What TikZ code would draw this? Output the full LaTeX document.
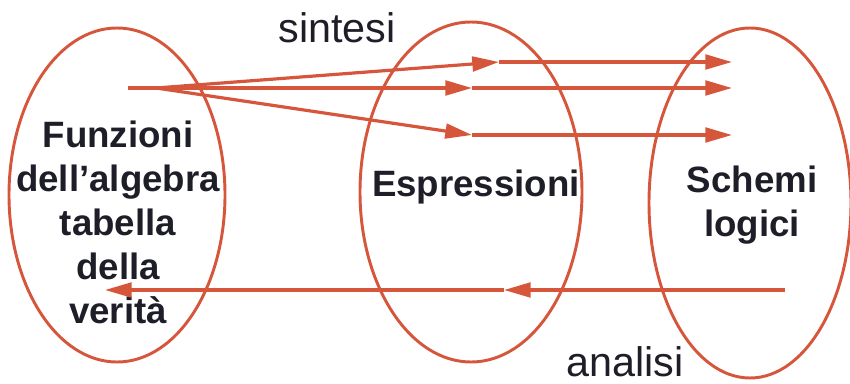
\documentclass[tikz,border=0pt]{standalone}
\usepackage{fontspec}
\setmainfont{Liberation Sans}
\usetikzlibrary{arrows.meta}
\definecolor{ered}{RGB}{214,86,60}
\definecolor{etext}{RGB}{30,30,40}
\begin{document}
\begin{tikzpicture}[x=0.75pt,y=-0.75pt,
  oval/.style={draw=ered,line width=2.2pt},
  conn/.style={draw=ered,line width=2.4pt,-{Triangle[length=20pt,width=11pt]}},
  plain/.style={draw=ered,line width=2.4pt},
  lbl/.style={text=etext,font=\fontsize{27.5}{33}\selectfont\bfseries,align=center,inner sep=0pt},
  side/.style={text=etext,font=\fontsize{31}{36}\selectfont,inner sep=0pt}]
\path[use as bounding box] (0,0) rectangle (850,384);
% ellipses
\draw[oval] (117,195) ellipse[x radius=108,y radius=167];
\draw[oval] (471,192) ellipse[x radius=111,y radius=170];
\draw[oval] (750,203) ellipse[x radius=101,y radius=175];
% texts
\node[lbl] (funz) at (118,222) {Funzioni\\dell'algebra\\tabella\\della\\verità};
\node[lbl] (espr) at (476,187) {Espressioni};
\node[lbl] (sche) at (752,205) {Schemi\\logici};
\node[side] (sint) at (337,28) {sintesi};
\node[side] (anal) at (625,362) {analisi};
% coordinates
\coordinate (s0) at (128,88);
\coordinate (f) at (156,88);
\coordinate (t1) at (499,62);
\coordinate (t2) at (472,88);
\coordinate (t3) at (472,135);
\coordinate (e1) at (732,62);
\coordinate (e2) at (732,88);
\coordinate (e3) at (732,135);
\coordinate (b0) at (785,290);
\coordinate (b1) at (504,290);
\coordinate (b2) at (105,290);
% synthesis arrows
\draw[plain] (s0) -- (f);
\draw[conn] (f) -- (t1);
\draw[conn] (f) -- (t2);
\draw[conn] (f) -- (t3);
\draw[conn] (t1) -- (e1);
\draw[conn] (t2) -- (e2);
\draw[conn] (t3) -- (e3);
% analysis arrows
\draw[conn] (b0) -- (b1);
\draw[conn] (b1) -- (b2);
\end{tikzpicture}
\end{document}
